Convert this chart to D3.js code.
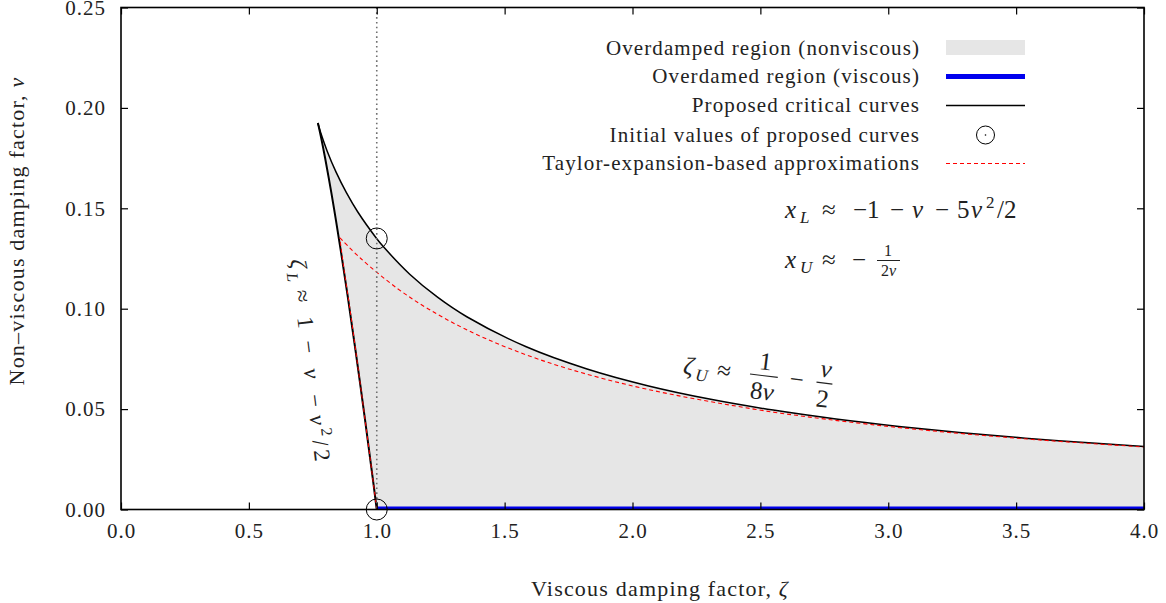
<!DOCTYPE html>
<html>
<head>
<meta charset="utf-8">
<script src="https://cdn.jsdelivr.net/npm/d3@7"></script>
<style>
  body { margin: 0; background: #fff; }
  svg text { font-family: "Liberation Serif", "Times New Roman", serif; fill: #222; }
</style>
</head>
<body>
<svg id="chart" width="1166" height="603"></svg>
<script>
// ---------------- DATA ----------------
const xTicks = [0, 0.5, 1.0, 1.5, 2.0, 2.5, 3.0, 3.5, 4.0];
const yTicks = [0, 0.05, 0.10, 0.15, 0.20, 0.25];

// lower critical curve (zeta, nu): from (1,0) up to the cusp
const lowerZeta = [1.0, 0.98078, 0.95465, 0.91737, 0.88666, 0.86134, 0.84050, 0.82341, 0.79825, 0.78241, 0.77353, 0.76980];
const lowerNu   = [0.0, 0.01904, 0.04427, 0.07889, 0.10603, 0.12732, 0.14400, 0.15703, 0.17493, 0.18519, 0.19043, 0.19245];

// upper critical curve (zeta, nu): from the cusp to the right edge
const upperZeta = [0.76980, 0.77461, 0.78125, 0.80667, 0.84100, 0.88134, 0.92593, 0.99940, 1.02369, 1.12891, 1.23886, 1.35200, 1.58449, 1.82215, 2.06299, 2.30586, 2.55025, 2.79562, 3.04181, 3.28856, 3.53581, 3.78347, 4.03120];
const upperNu   = [0.19245, 0.19026, 0.18750, 0.17833, 0.16800, 0.15778, 0.14815, 0.13498, 0.13120, 0.11719, 0.10562, 0.09600, 0.08102, 0.06997, 0.06152, 0.05487, 0.04950, 0.04508, 0.04138, 0.03823, 0.03553, 0.03319, 0.03113];

// Taylor approximations
const taylorLowerZeta = [1.0, 0.97473, 0.94875, 0.92205, 0.89500, 0.87138, 0.85555];
const taylorLowerNu   = [0.0, 0.025, 0.05, 0.075, 0.10, 0.12, 0.1353];
const taylorUpperZeta = [0.8562, 0.9375, 1.08136, 1.2000, 1.34389, 1.5225, 1.75071, 2.05333, 2.475, 2.75528, 3.105, 3.55393, 4.0011];
const taylorUpperNu   = [0.1353, 0.125, 0.11, 0.10, 0.09, 0.08, 0.07, 0.06, 0.05, 0.045, 0.04, 0.035, 0.03112];

// viscous overdamped region (nu = 0)
const viscousZeta = [1.0, 4.0];
const viscousNu   = [0.0, 0.0];

// initial values of proposed curves
const initZeta = [1.0, 1.0];
const initNu   = [0.13498, 0.0];

const legendLabels = ["Overdamped region (nonviscous)", "Overdamed region (viscous)", "Proposed critical curves", "Initial values of proposed curves", "Taylor-expansion-based approximations"];

// ---------------- LAYOUT ----------------
const svg = d3.select("#chart");
const PL = 121, PR = 1144, PT = 7.5, PB = 509.5;
const x = d3.scaleLinear().domain([0, 4]).range([PL, PR]);
const y = d3.scaleLinear().domain([0, 0.25]).range([PB, PT]);

svg.append("rect").attr("width", 1166).attr("height", 603).attr("fill", "#fff");

svg.append("clipPath").attr("id", "clip")
  .append("rect").attr("x", PL).attr("y", PT).attr("width", PR - PL).attr("height", PB - PT);

const plot = svg.append("g").attr("clip-path", "url(#clip)");

const zip = (a, b) => a.map((v, i) => [v, b[i]]);
const line = d3.line().x(d => x(d[0])).y(d => y(d[1])).curve(d3.curveCatmullRom.alpha(0.5));

// filled region
const lowerPts = zip(lowerZeta, lowerNu);
const upperPts = zip(upperZeta, upperNu);
plot.append("path")
  .attr("d", line(lowerPts.concat(upperPts.slice(1))) + `L${x(upperZeta[upperZeta.length-1])},${y(0)}L${x(1)},${y(0)}Z`)
  .attr("fill", "#e6e6e6").attr("stroke", "none");

// dotted vertical line at zeta = 1
svg.append("line")
  .attr("x1", x(1)).attr("x2", x(1)).attr("y1", PT).attr("y2", PB)
  .attr("stroke", "#707070").attr("stroke-width", 1.6).attr("stroke-dasharray", "1.6,3.2");

// viscous overdamped region
plot.append("path").attr("d", d3.line().x(d => x(d[0])).y(d => y(d[1]))(zip(viscousZeta, viscousNu)))
  .attr("stroke", "#0000ee").attr("stroke-width", 6).attr("fill", "none");

// critical curves
plot.append("path").attr("d", line(lowerPts)).attr("stroke", "#000").attr("stroke-width", 2).attr("fill", "none");
plot.append("path").attr("d", line(upperPts)).attr("stroke", "#000").attr("stroke-width", 1.5).attr("fill", "none");

// Taylor approximations
plot.append("path").attr("d", line(zip(taylorLowerZeta, taylorLowerNu))).attr("stroke", "#ff0000").attr("stroke-width", 1).attr("stroke-dasharray", "4,3").attr("fill", "none");
plot.append("path").attr("d", line(zip(taylorUpperZeta, taylorUpperNu))).attr("stroke", "#ff0000").attr("stroke-width", 1.1).attr("stroke-dasharray", "4,3").attr("fill", "none");

// axes (ticks inward on all four sides)
const ax = svg.append("g").attr("class", "axes");
ax.append("g").attr("transform", `translate(0,${PB})`)
  .call(d3.axisBottom(x).tickValues(xTicks).tickFormat(d3.format(".1f")).tickSizeInner(-7).tickSizeOuter(0).tickPadding(14));
ax.append("g").attr("transform", `translate(${PL},0)`)
  .call(d3.axisLeft(y).tickValues(yTicks).tickFormat(d3.format(".2f")).tickSizeInner(-7).tickSizeOuter(0).tickPadding(15));
ax.append("g").attr("transform", `translate(0,${PT})`)
  .call(d3.axisTop(x).tickValues(xTicks).tickFormat("").tickSizeInner(-7).tickSizeOuter(0));
ax.append("g").attr("transform", `translate(${PR},0)`)
  .call(d3.axisRight(y).tickValues(yTicks).tickFormat("").tickSizeInner(-7).tickSizeOuter(0));
ax.selectAll(".domain").remove();
ax.selectAll(".tick line").attr("stroke", "#000").attr("stroke-width", 1.2);
ax.selectAll(".tick text").attr("font-size", 21).attr("fill", "#222").attr("letter-spacing", 1)
  .style("font-family", "'Liberation Serif', serif");

// frame
svg.append("rect").attr("x", PL).attr("y", PT).attr("width", PR - PL).attr("height", PB - PT)
  .attr("fill", "none").attr("stroke", "#000").attr("stroke-width", 1.6);

// initial value circles
const circ = svg.append("g");
zip(initZeta, initNu).forEach(d => {
  circ.append("circle").attr("cx", x(d[0])).attr("cy", y(d[1])).attr("r", 10.5)
    .attr("fill", "none").attr("stroke", "#000").attr("stroke-width", 1);
});

// axis labels
const xl = svg.append("text").attr("x", 660).attr("y", 596).attr("text-anchor", "middle")
  .attr("font-size", 22).attr("letter-spacing", 1.2);
xl.append("tspan").text("Viscous damping factor, ");
xl.append("tspan").attr("font-style", "italic").text("ζ");
const yl = svg.append("text").attr("transform", "translate(24,231) rotate(-90)").attr("text-anchor", "middle")
  .attr("font-size", 22).attr("letter-spacing", 1.2);
yl.append("tspan").text("Non–viscous damping factor, ");
yl.append("tspan").attr("font-style", "italic").text("ν");

// legend
const lg = svg.append("g");
const rowsY = [48, 76.5, 105.5, 135, 163.5];
legendLabels.forEach((lab, i) => {
  lg.append("text").attr("x", 920).attr("y", rowsY[i]).attr("dy", "0.33em").attr("text-anchor", "end")
    .attr("font-size", 21).attr("letter-spacing", 1.1).text(lab);
});
lg.append("rect").attr("x", 946).attr("y", rowsY[0] - 8).attr("width", 79).attr("height", 15).attr("fill", "#e6e6e6");
lg.append("line").attr("x1", 946).attr("x2", 1025).attr("y1", rowsY[1]).attr("y2", rowsY[1]).attr("stroke", "#0000ee").attr("stroke-width", 5);
lg.append("line").attr("x1", 946).attr("x2", 1025).attr("y1", rowsY[2]).attr("y2", rowsY[2]).attr("stroke", "#000").attr("stroke-width", 1.5);
lg.append("circle").attr("cx", 985.5).attr("cy", rowsY[3]).attr("r", 9).attr("fill", "none").attr("stroke", "#000").attr("stroke-width", 1);
lg.append("circle").attr("cx", 985.5).attr("cy", rowsY[3]).attr("r", 0.8).attr("fill", "#000");
lg.append("line").attr("x1", 946).attr("x2", 1025).attr("y1", rowsY[4]).attr("y2", rowsY[4]).attr("stroke", "#ff0000").attr("stroke-width", 1).attr("stroke-dasharray", "4,3");

// math annotations: each token placed along its own baseline
function tokens(g, list, size) {
  list.forEach(k => {
    g.append("text").attr("x", k.x).attr("y", k.y || 0)
      .attr("text-anchor", k.mid ? "middle" : "start")
      .attr("font-size", k.s || size)
      .attr("font-style", k.i ? "italic" : "normal")
      .text(k.t);
  });
}
const fs = 25;
tokens(svg.append("g").attr("transform", "translate(785,218)"), [
  {t: "x", x: 0, i: true}, {t: "L", x: 15, y: 5, i: true, s: 17},
  {t: "≈", x: 37}, {t: "−1", x: 68}, {t: "−", x: 105}, {t: "ν", x: 127, i: true},
  {t: "−", x: 150}, {t: "5", x: 172}, {t: "ν", x: 186, i: true}, {t: "2", x: 201, y: -10, s: 17},
  {t: "/2", x: 212}
], fs);
tokens(svg.append("g").attr("transform", "translate(785,268)"), [
  {t: "x", x: 0, i: true}, {t: "U", x: 15, y: 5, i: true, s: 17},
  {t: "≈", x: 37}, {t: "−", x: 67},
  {t: "1", x: 103, y: -12, mid: true, s: 16}
], fs);
svg.append("line").attr("x1", 877).attr("x2", 900).attr("y1", 260.5).attr("y2", 260.5).attr("stroke", "#222").attr("stroke-width", 1);
const f2 = svg.append("text").attr("x", 888.5).attr("y", 276).attr("text-anchor", "middle").attr("font-size", 16);
f2.append("tspan").text("2");
f2.append("tspan").attr("font-style", "italic").text("ν");

// zeta_U annotation, rotated to follow the curve
const gU = svg.append("g").attr("transform", "translate(750,374) rotate(7)");
tokens(gU, [
  {t: "ζ", x: -67, y: 8, i: true}, {t: "U", x: -54, y: 13, i: true, s: 17},
  {t: "≈", x: -33, y: 8},
  {t: "1", x: 14, y: -6, mid: true},
  {t: "−", x: 47, y: 8, mid: true},
  {t: "ν", x: 75, y: -6, mid: true, i: true},
  {t: "2", x: 75, y: 24, mid: true}
], fs);
gU.append("line").attr("x1", 0).attr("x2", 28).attr("y1", 0).attr("y2", 0).attr("stroke", "#222").attr("stroke-width", 1.1);
gU.append("line").attr("x1", 67).attr("x2", 83).attr("y1", 0).attr("y2", 0).attr("stroke", "#222").attr("stroke-width", 1.1);
const d8 = gU.append("text").attr("x", 14).attr("y", 24).attr("text-anchor", "middle").attr("font-size", fs);
d8.append("tspan").text("8");
d8.append("tspan").attr("font-style", "italic").text("ν");

// zeta_L annotation, rotated along the lower curve
const gL = svg.append("g").attr("transform", "translate(290,258) rotate(83)");
tokens(gL, [
  {t: "ζ", x: 2, i: true}, {t: "L", x: 15, y: 5, i: true, s: 16},
  {t: "≈", x: 33}, {t: "1", x: 60}, {t: "−", x: 84}, {t: "ν", x: 112, i: true},
  {t: "−", x: 138}, {t: "ν", x: 159, i: true}, {t: "2", x: 173, y: -10, s: 16},
  {t: "/", x: 184}, {t: "2", x: 194}
], 23);
</script>
</body>
</html>
